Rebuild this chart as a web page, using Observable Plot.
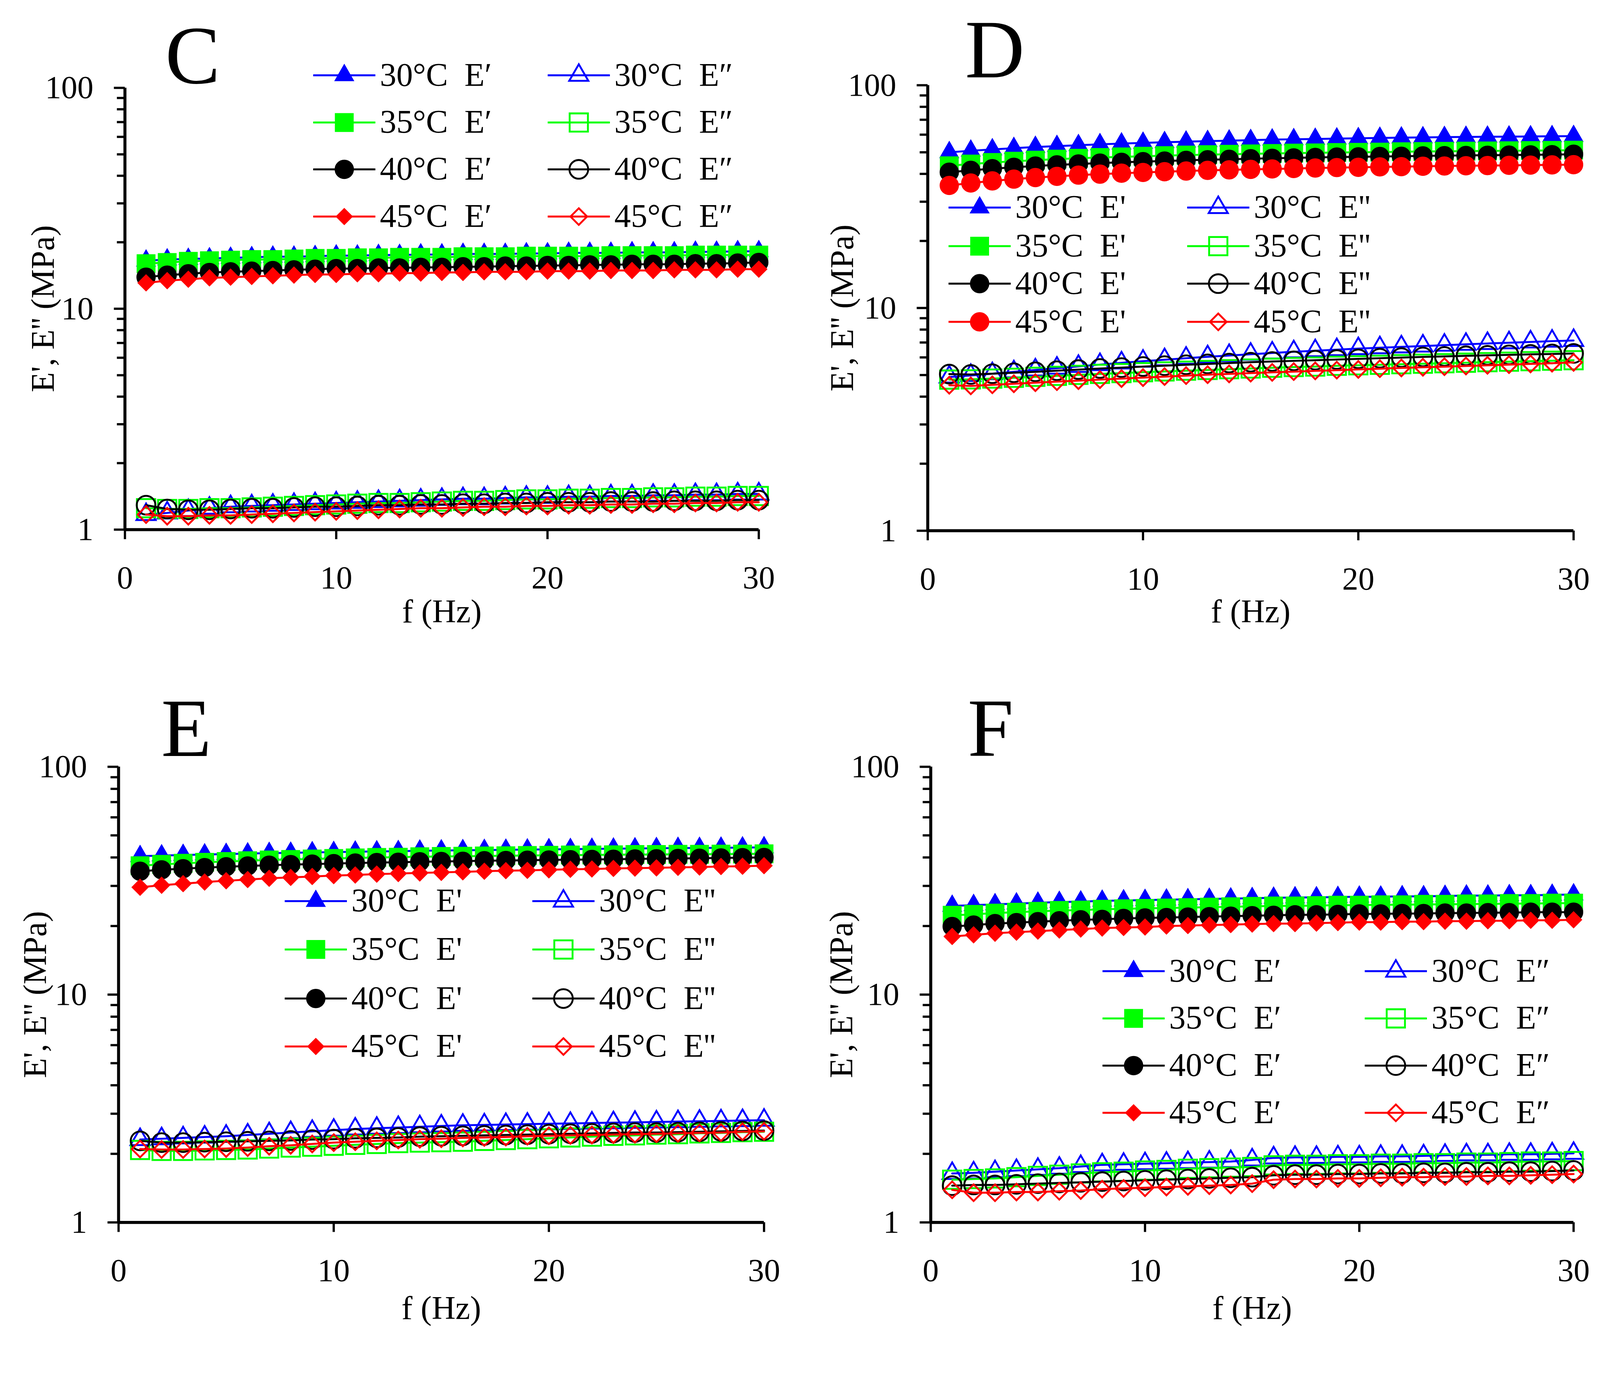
<!DOCTYPE html>
<html>
<head>
<meta charset="utf-8">
<script src="https://cdn.jsdelivr.net/npm/d3@7"></script>
<script src="https://cdn.jsdelivr.net/npm/@observablehq/plot@0.6"></script>
<style>
  html, body { margin: 0; padding: 0; background: #fff; overflow: hidden; }
  #page { position: relative; width: 4271px; height: 3568px; background: #fff; font-family: "Liberation Serif", serif; transform-origin: 0 0; }
  .panel { position: absolute; width: 2135px; height: 1784px; }
  .panel svg { position: absolute; left: 0; top: 0; overflow: visible; }
</style>
</head>
<body>
<div id="page"></div>
<script>
// frequency, Hz
const freq = [1,2,3,4,5,6,7,8,9,10,11,12,13,14,15,16,17,18,19,20,21,22,23,24,25,26,27,28,29,30];
const temps = ["30°C", "35°C", "40°C", "45°C"];
const colors = ["#0000FF", "#00FF00", "#000000", "#FF0000"];

// panel C (MPa)
const cE1_30 = [16.5,16.7,16.8,16.9,17.0,17.1,17.2,17.2,17.3,17.4,17.4,17.5,17.5,17.6,17.6,17.7,17.7,17.7,17.8,17.8,17.9,17.9,17.9,18.0,18.0,18.0,18.1,18.1,18.2,18.2];
const cE1_35 = [16.0,16.2,16.4,16.5,16.6,16.7,16.7,16.8,16.9,16.9,17.0,17.0,17.1,17.1,17.1,17.2,17.2,17.2,17.3,17.3,17.3,17.3,17.4,17.4,17.4,17.4,17.5,17.5,17.5,17.5];
const cE1_40 = [13.9,14.2,14.4,14.6,14.7,14.8,14.9,15.0,15.1,15.2,15.2,15.3,15.3,15.4,15.4,15.5,15.5,15.6,15.6,15.7,15.7,15.8,15.8,15.9,15.9,15.9,16.0,16.0,16.1,16.2];
const cE1_45 = [13.1,13.4,13.6,13.8,13.9,14.0,14.1,14.2,14.3,14.3,14.4,14.4,14.5,14.5,14.6,14.6,14.7,14.7,14.7,14.8,14.8,14.8,14.9,14.9,14.9,15.0,15.0,15.0,15.1,15.1];
const cE2_30 = [1.17,1.19,1.22,1.25,1.27,1.28,1.29,1.30,1.31,1.32,1.33,1.34,1.35,1.36,1.37,1.38,1.38,1.39,1.40,1.40,1.41,1.41,1.42,1.42,1.43,1.43,1.44,1.44,1.45,1.45];
const cE2_35 = [1.25,1.24,1.24,1.25,1.25,1.26,1.27,1.28,1.29,1.30,1.31,1.32,1.32,1.33,1.34,1.35,1.35,1.36,1.37,1.37,1.38,1.38,1.39,1.39,1.40,1.40,1.41,1.41,1.42,1.42];
const cE2_40 = [1.29,1.24,1.23,1.23,1.24,1.25,1.25,1.26,1.27,1.27,1.28,1.29,1.29,1.30,1.30,1.31,1.31,1.32,1.32,1.33,1.33,1.33,1.34,1.34,1.34,1.35,1.35,1.35,1.36,1.36];
const cE2_45 = [1.17,1.15,1.15,1.16,1.16,1.17,1.18,1.19,1.20,1.21,1.22,1.23,1.24,1.25,1.25,1.26,1.27,1.27,1.28,1.28,1.29,1.29,1.30,1.30,1.31,1.31,1.32,1.32,1.33,1.33];

// panel D
const dE1_30 = [50.0,50.8,51.5,52.2,52.8,53.3,53.8,54.3,54.7,55.1,55.5,55.8,56.1,56.4,56.7,57.0,57.2,57.4,57.6,57.8,58.0,58.2,58.3,58.5,58.6,58.7,58.8,58.9,59.0,59.1];
const dE1_35 = [43.5,44.3,45.0,45.6,46.1,46.6,47.0,47.4,47.7,48.0,48.3,48.6,48.8,49.0,49.2,49.4,49.6,49.7,49.9,50.0,50.1,50.3,50.4,50.5,50.6,50.7,50.8,50.9,51.0,51.1];
const dE1_40 = [40.7,41.5,42.2,42.8,43.4,43.9,44.3,44.7,45.1,45.4,45.7,46.0,46.3,46.5,46.8,47.0,47.2,47.4,47.6,47.7,47.9,48.0,48.2,48.3,48.4,48.5,48.6,48.7,48.8,49.0];
const dE1_45 = [35.5,36.4,37.2,37.9,38.5,39.0,39.5,39.9,40.3,40.6,40.9,41.2,41.5,41.7,41.9,42.1,42.3,42.5,42.7,42.8,43.0,43.1,43.3,43.4,43.5,43.6,43.7,43.8,43.9,44.0];
const dE2_30 = [4.90,4.98,5.07,5.17,5.27,5.37,5.47,5.57,5.67,5.77,5.86,5.95,6.04,6.12,6.20,6.28,6.36,6.43,6.50,6.57,6.63,6.69,6.75,6.81,6.87,6.93,6.98,7.04,7.10,7.15];
const dE2_35 = [4.77,4.78,4.82,4.86,4.91,4.96,5.01,5.06,5.10,5.15,5.19,5.23,5.27,5.31,5.35,5.39,5.43,5.46,5.50,5.53,5.56,5.59,5.62,5.65,5.68,5.71,5.74,5.77,5.80,5.83];
const dE2_40 = [5.05,5.03,5.07,5.12,5.17,5.23,5.29,5.35,5.40,5.46,5.51,5.56,5.61,5.66,5.71,5.75,5.79,5.83,5.87,5.91,5.95,5.99,6.03,6.06,6.10,6.13,6.16,6.19,6.22,6.25];
const dE2_45 = [4.50,4.47,4.52,4.57,4.62,4.67,4.72,4.77,4.82,4.87,4.92,4.97,5.02,5.06,5.10,5.14,5.18,5.22,5.26,5.30,5.34,5.38,5.42,5.45,5.49,5.53,5.57,5.61,5.65,5.70];

// panel E
const eE1_30 = [40.5,40.8,41.0,41.2,41.4,41.6,41.8,41.9,42.1,42.2,42.4,42.5,42.6,42.8,42.9,43.0,43.1,43.2,43.3,43.4,43.5,43.6,43.7,43.8,43.9,44.0,44.0,44.1,44.2,44.3];
const eE1_35 = [36.8,37.3,37.7,38.1,38.4,38.7,39.0,39.2,39.4,39.6,39.8,40.0,40.1,40.3,40.4,40.5,40.6,40.7,40.8,40.9,41.0,41.0,41.1,41.2,41.2,41.3,41.3,41.4,41.4,41.5];
const eE1_40 = [34.8,35.3,35.7,36.1,36.4,36.7,37.0,37.2,37.4,37.6,37.8,38.0,38.1,38.3,38.4,38.5,38.7,38.8,38.9,39.0,39.1,39.2,39.3,39.4,39.5,39.6,39.7,39.8,39.9,40.0];
const eE1_45 = [29.6,30.2,30.7,31.2,31.6,32.0,32.4,32.7,33.0,33.3,33.5,33.8,34.0,34.2,34.4,34.6,34.8,35.0,35.1,35.3,35.5,35.6,35.8,35.9,36.0,36.2,36.3,36.5,36.6,36.8];
const eE2_30 = [2.31,2.33,2.35,2.37,2.39,2.42,2.45,2.48,2.51,2.54,2.57,2.59,2.61,2.63,2.65,2.67,2.68,2.69,2.70,2.71,2.72,2.73,2.74,2.75,2.76,2.77,2.78,2.79,2.80,2.81];
const eE2_35 = [2.08,2.06,2.06,2.07,2.08,2.09,2.11,2.13,2.15,2.17,2.19,2.21,2.23,2.24,2.25,2.26,2.28,2.30,2.32,2.34,2.36,2.38,2.40,2.41,2.43,2.44,2.46,2.47,2.49,2.50];
const eE2_40 = [2.28,2.24,2.24,2.25,2.26,2.27,2.28,2.29,2.31,2.32,2.34,2.35,2.36,2.38,2.39,2.40,2.41,2.42,2.43,2.44,2.45,2.46,2.47,2.48,2.48,2.49,2.50,2.51,2.52,2.53];
const eE2_45 = [2.10,2.09,2.09,2.10,2.11,2.13,2.16,2.18,2.21,2.24,2.26,2.28,2.30,2.32,2.33,2.35,2.36,2.37,2.39,2.40,2.41,2.42,2.43,2.44,2.45,2.46,2.47,2.48,2.50,2.51];

// panel F
const fE1_30 = [24.5,24.7,24.9,25.1,25.3,25.5,25.6,25.8,25.9,26.0,26.1,26.2,26.3,26.4,26.5,26.6,26.7,26.7,26.8,26.9,26.9,27.0,27.0,27.1,27.2,27.2,27.3,27.3,27.4,27.5];
const fE1_35 = [22.3,22.5,22.8,23.0,23.2,23.4,23.5,23.7,23.8,23.9,24.0,24.1,24.2,24.3,24.4,24.5,24.5,24.6,24.7,24.7,24.8,24.8,24.9,24.9,25.0,25.0,25.1,25.1,25.2,25.2];
const fE1_40 = [19.9,20.2,20.5,20.7,20.9,21.1,21.3,21.4,21.6,21.7,21.8,21.9,22.0,22.1,22.2,22.3,22.4,22.4,22.5,22.6,22.6,22.7,22.7,22.8,22.8,22.9,22.9,23.0,23.0,23.0];
const fE1_45 = [18.0,18.3,18.6,18.8,19.0,19.2,19.4,19.6,19.7,19.8,20.0,20.1,20.2,20.3,20.4,20.5,20.5,20.6,20.7,20.8,20.8,20.9,20.9,21.0,21.0,21.1,21.1,21.2,21.2,21.3];
const fE2_30 = [1.64,1.65,1.67,1.69,1.71,1.73,1.76,1.79,1.80,1.81,1.82,1.83,1.84,1.85,1.88,1.92,1.93,1.93,1.94,1.94,1.95,1.95,1.96,1.97,1.98,1.98,1.99,1.99,2.00,2.01];
const fE2_35 = [1.54,1.55,1.56,1.58,1.60,1.62,1.64,1.66,1.67,1.69,1.70,1.72,1.73,1.74,1.75,1.78,1.79,1.79,1.80,1.80,1.81,1.81,1.82,1.82,1.83,1.83,1.84,1.85,1.85,1.86];
const fE2_40 = [1.45,1.46,1.46,1.47,1.48,1.49,1.50,1.51,1.52,1.53,1.54,1.55,1.56,1.57,1.58,1.61,1.62,1.62,1.63,1.63,1.64,1.64,1.65,1.65,1.66,1.66,1.67,1.67,1.68,1.69];
const fE2_45 = [1.39,1.35,1.35,1.36,1.36,1.37,1.38,1.40,1.41,1.42,1.43,1.44,1.45,1.46,1.48,1.54,1.55,1.55,1.56,1.56,1.57,1.58,1.58,1.59,1.59,1.60,1.60,1.61,1.62,1.63];

const yMajor = [1, 10, 100];
const yMinor = [2,3,4,5,6,7,8,9,20,30,40,50,60,70,80,90];
const xTicks = [0, 10, 20, 30];

const SYM = { triangle: d3.symbolTriangle, square: d3.symbolSquare, circle: d3.symbolCircle, diamond: d3.symbolDiamond2 };
const SIZE = { triangle: 19, square: 27.5, circle: 25, diamond: 20 };
const FONT = "Liberation Serif";
const LINE_W = 5.2;
const OPEN_W = 5;

const panels = [
  { letter: "C", left: 0, top: 0, m: [234, 110, 371, 333], lx: [441, 222], ytDx: -218, xtDy: 219,
    primes: ["E\u2032", "E\u2033"], syms: ["triangle","square","circle","diamond"],
    e1: [cE1_30, cE1_35, cE1_40, cE1_45], e2: [cE2_30, cE2_35, cE2_40, cE2_45],
    legCols: [836, 1462], legRows: [201, 327, 452, 578] },
  { letter: "D", left: 2135, top: 0, m: [227, 70, 368, 341], lx: [441, 206], ytDx: -227, xtDy: 216,
    primes: ["E'", "E''"], syms: ["triangle","square","circle","circle"], syms2: ["triangle","square","circle","diamond"],
    e1: [dE1_30, dE1_35, dE1_40, dE1_45], e2: [dE2_30, dE2_35, dE2_40, dE2_45],
    legCols: [397, 1034], legRows: [554, 657, 757, 859] },
  { letter: "E", left: 0, top: 1784, m: [262, 96, 306, 316], lx: [430, 234], ytDx: -222, xtDy: 230,
    primes: ["E'", "E''"], syms: ["triangle","square","circle","diamond"],
    e1: [eE1_30, eE1_35, eE1_40, eE1_45], e2: [eE2_30, eE2_35, eE2_40, eE2_45],
    legCols: [760, 1421], legRows: [621, 750, 881, 1009] },
  { letter: "F", left: 2135, top: 1784, m: [262, 70, 306, 349], lx: [448, 234], ytDx: -237, xtDy: 230,
    primes: ["E\u2032", "E\u2033"], syms: ["triangle","square","circle","diamond"],
    e1: [fE1_30, fE1_35, fE1_40, fE1_45], e2: [fE2_30, fE2_35, fE2_40, fE2_45],
    legCols: [2943 - 2135, 3643 - 2135], legRows: [808, 934, 1060, 1186] }
];

const page = document.getElementById("page");

// fit the 4271-wide layout into whatever viewport the browser actually has
const fit = Math.min(window.innerWidth / 4271, window.innerHeight / 3568);
if (fit > 0 && fit < 1) page.style.transform = `scale(${fit})`;

for (const p of panels) {
  const syms2 = p.syms2 || p.syms;
  const series = [];
  p.e1.forEach((vals, i) => series.push({ vals, color: colors[i], sym: p.syms[i], filled: true, label: temps[i] + "\u2002" + p.primes[0], col: 0, row: i }));
  p.e2.forEach((vals, i) => series.push({ vals, color: colors[i], sym: syms2[i], filled: false, label: temps[i] + "\u2002" + p.primes[1], col: 1, row: i }));

  const marks = [];
  for (const s of series) {
    const rows = freq.map((f, i) => ({ f, v: s.vals[i] }));
    marks.push(Plot.line(rows, { x: "f", y: "v", stroke: s.color, strokeWidth: LINE_W }));
    marks.push(Plot.dot(rows, {
      x: "f", y: "v", symbol: SYM[s.sym], r: SIZE[s.sym],
      fill: s.filled ? s.color : "none", stroke: s.color, strokeWidth: s.filled ? 1.5 : OPEN_W
    }));
  }

  const chart = Plot.plot({
    width: 2135,
    height: 1784,
    marginTop: p.m[0], marginRight: p.m[1], marginBottom: p.m[2], marginLeft: p.m[3],
    style: { fontFamily: FONT, background: "transparent", color: "black", overflow: "visible" },
    x: { domain: [0, 30] },
    y: { type: "log", domain: [1, 100] },
    marks: [
      Plot.axisY(yMinor, { tickSize: 21, strokeWidth: 6, tickFormat: () => "", label: null }),
      Plot.axisY(yMajor, { tickSize: 29, tickPadding: 55, strokeWidth: 6, fontSize: 86, tickFormat: d => String(d), label: null }),
      Plot.axisX(xTicks, { tickSize: 26, tickPadding: 70, strokeWidth: 6, fontSize: 86, tickFormat: d => String(d), label: null }),
      Plot.ruleX([0], { strokeWidth: 8 }),
      Plot.ruleY([1], { strokeWidth: 8 }),
      Plot.text(["f (Hz)"], { text: d => d, frameAnchor: "bottom", dy: p.xtDy, fontSize: 88, lineAnchor: "middle" }),
      Plot.text(["E', E'' (MPa)"], { text: d => d, frameAnchor: "left", dx: p.ytDx, rotate: -90, fontSize: 88, lineAnchor: "middle", textAnchor: "middle" }),
      ...marks
    ]
  });

  const holder = document.createElement("div");
  holder.className = "panel";
  holder.style.left = p.left + "px";
  holder.style.top = p.top + "px";
  holder.appendChild(chart);

  // overlay: panel letter and legend
  const over = d3.create("svg").attr("width", 2135).attr("height", 1784)
    .style("font-family", FONT);
  over.append("text").attr("x", p.lx[0]).attr("y", p.lx[1])
    .attr("font-size", 220).attr("fill", "black").text(p.letter);

  for (const s of series) {
    const x0 = p.legCols[s.col], y0 = p.legRows[s.row];
    const g = over.append("g");
    g.append("line").attr("x1", x0).attr("x2", x0 + 166).attr("y1", y0).attr("y2", y0)
      .attr("stroke", s.color).attr("stroke-width", LINE_W);
    const r = SIZE[s.sym];
    g.append("path").attr("d", d3.symbol(SYM[s.sym], Math.PI * r * r)())
      .attr("transform", `translate(${x0 + 83},${y0})`)
      .attr("fill", s.filled ? s.color : "none").attr("stroke", s.color)
      .attr("stroke-width", s.filled ? 1.5 : OPEN_W);
    g.append("text").attr("x", x0 + 178).attr("y", y0 + 28)
      .attr("font-size", 88).attr("fill", "black").style("white-space", "pre").text(s.label);
  }
  holder.appendChild(over.node());
  page.appendChild(holder);
}
</script>
</body>
</html>
